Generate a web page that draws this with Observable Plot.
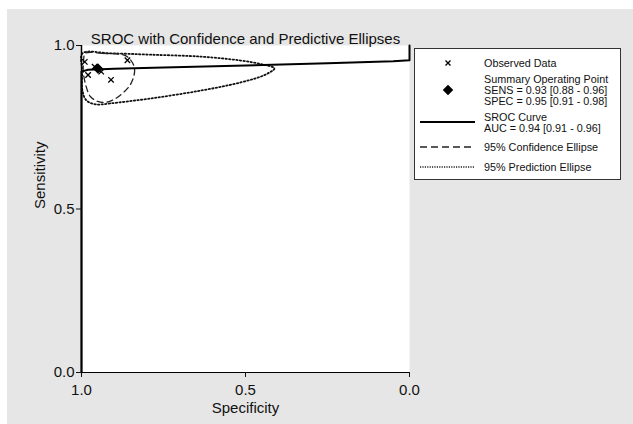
<!DOCTYPE html>
<html><head><meta charset="utf-8">
<script src="https://cdn.jsdelivr.net/npm/d3@7"></script>
<script src="https://cdn.jsdelivr.net/npm/@observablehq/plot@0.6"></script>
<style>
html,body{margin:0;padding:0;background:#fff;}
#wrap{position:relative;width:633px;height:424px;overflow:hidden;}
#bg{position:absolute;left:7px;top:9px;width:626px;height:415px;background:#e6e6e6;}
#chart{position:absolute;left:0;top:0;}
</style></head><body>
<div id="wrap"><div id="bg"></div><div id="chart"></div></div>
<script>
// ---- data ----
const titleText = "SROC with Confidence and Predictive Ellipses";
const xLabel = "Specificity";
const yLabel = "Sensitivity";
const tickValues = [0, 0.5, 1];

const obsSpec = [0.99, 0.98, 0.86, 0.91, 0.94, 0.96];
const obsSens = [0.95, 0.91, 0.955, 0.895, 0.92, 0.935];

const summarySpec = [0.95];
const summarySens = [0.93];

const srocSpec = [1.0, 1.0, 0.98, 0.9, 0.75, 0.5, 0.25, 0.05, 0.0, 0.0];
const srocSens = [0.0, 0.92, 0.926, 0.929, 0.933, 0.939, 0.946, 0.952, 0.955, 1.0];

const confSpec = [0.988, 0.936, 0.866, 0.845, 0.838, 0.845, 0.857, 0.896, 0.927, 0.951, 0.973, 0.985, 0.994, 0.994];
const confSens = [0.976, 0.976, 0.969, 0.948, 0.924, 0.893, 0.872, 0.838, 0.826, 0.829, 0.844, 0.872, 0.914, 0.948];

const predSpec = [0.997, 0.912, 0.790, 0.637, 0.515, 0.448, 0.412, 0.439, 0.515, 0.637, 0.790, 0.912, 0.957, 0.985, 0.997, 0.998];
const predSens = [0.976, 0.976, 0.972, 0.966, 0.954, 0.942, 0.930, 0.911, 0.887, 0.862, 0.838, 0.823, 0.820, 0.832, 0.862, 0.924];

const legendObserved = ["Observed Data"];
const legendSummary = ["Summary Operating Point", "SENS = 0.93 [0.88 - 0.96]", "SPEC = 0.95 [0.91 - 0.98]"];
const legendSroc = ["SROC Curve", "AUC = 0.94 [0.91 - 0.96]"];
const legendConf = ["95% Confidence Ellipse"];
const legendPred = ["95% Prediction Ellipse"];

// ---- tables ----
const toRows = (xs, ys) => xs.map((x, i) => ({spec: x, sens: ys[i]}));
const obs = toRows(obsSpec, obsSens);
const summary = toRows(summarySpec, summarySens);
const sroc = toRows(srocSpec, srocSens);
const conf = toRows(confSpec, confSens);
const pred = toRows(predSpec, predSens);

const FONT = "'Liberation Sans', Arial, Helvetica, sans-serif";
const fmt = d3.format(".1f");

const plot = Plot.plot({
  width: 633, height: 424,
  marginLeft: 81, marginRight: 224, marginTop: 45, marginBottom: 52,
  style: {background: "transparent", fontFamily: FONT, fontSize: "15px", color: "#111", overflow: "visible"},
  x: {domain: [1, 0]},
  y: {domain: [0, 1]},
  marks: [
    Plot.frame({fill: "white", stroke: "none"}),
    Plot.line(pred, {x: "spec", y: "sens", curve: "catmull-rom-closed", stroke: "#111", strokeWidth: 1.8, strokeDasharray: "1.4,2.2"}),
    Plot.line(conf, {x: "spec", y: "sens", curve: "catmull-rom-closed", stroke: "#222", strokeWidth: 1.3, strokeDasharray: "6,4"}),
    Plot.line(sroc, {x: "spec", y: "sens", stroke: "#000", strokeWidth: 2}),
    Plot.dot(obs, {x: "spec", y: "sens", symbol: "times", r: 2.6, stroke: "#000", strokeWidth: 1.3}),
    Plot.dot(summary, {x: "spec", y: "sens", symbol: "square", rotate: 45, r: 4.2, fill: "#000", stroke: "none"}),
    Plot.ruleX([1], {stroke: "#000", strokeWidth: 1.5}),
    Plot.ruleY([0], {stroke: "#000", strokeWidth: 1.2}),
    Plot.axisY({ticks: tickValues, tickFormat: fmt, tickSize: 5, tickPadding: 2, label: null, fontSize: 15}),
    Plot.axisX({ticks: tickValues, tickFormat: fmt, tickSize: 5, tickPadding: 7, label: null, fontSize: 15}),
    Plot.text([titleText], {frameAnchor: "top", dy: -12, fontSize: 15, fill: "#111"}),
    Plot.text([xLabel], {frameAnchor: "bottom", dy: 40, fontSize: 15, fill: "#111"}),
    Plot.text([yLabel], {frameAnchor: "left", dx: -41, rotate: -90, fontSize: 15, fill: "#111"})
  ]
});
document.getElementById("chart").appendChild(plot);

// ---- legend (added to the SVG) ----
const svg = d3.select(plot);
const lg = svg.append("g").attr("font-family", FONT).attr("font-size", 10.8).attr("fill", "#111").attr("text-anchor", "start");
lg.append("rect").attr("x", 414.5).attr("y", 48.5).attr("width", 206).attr("height", 131)
  .attr("fill", "white").attr("stroke", "#333").attr("stroke-width", 1);
const textX = 484;
function lines(arr, y0, step) {
  arr.forEach((t, i) => lg.append("text").attr("x", textX).attr("y", y0 + i * step).attr("dy", "0.35em").attr("text-anchor", "start").text(t));
}
lines(legendObserved, 63, 11);
lg.append("path").attr("transform", "translate(448,63)")
  .attr("d", d3.symbol(d3.symbolTimes, Math.PI * 2.4 * 2.4)()).attr("stroke", "#000").attr("stroke-width", 1.3).attr("fill", "none");
lines(legendSummary, 79.5, 11);
lg.append("path").attr("transform", "translate(448,90) rotate(45)")
  .attr("d", d3.symbol(d3.symbolSquare, Math.PI * 4.2 * 4.2)()).attr("fill", "#000");
lines(legendSroc, 117.5, 11);
lg.append("line").attr("x1", 420).attr("x2", 475).attr("y1", 122).attr("y2", 122).attr("stroke", "#000").attr("stroke-width", 2);
lines(legendConf, 147, 11);
lg.append("line").attr("x1", 420).attr("x2", 475).attr("y1", 147).attr("y2", 147).attr("stroke", "#222").attr("stroke-width", 1.3).attr("stroke-dasharray", "7,4");
lines(legendPred, 167, 11);
lg.append("line").attr("x1", 420).attr("x2", 475).attr("y1", 167).attr("y2", 167).attr("stroke", "#222").attr("stroke-width", 1.3).attr("stroke-dasharray", "1.2,1.2");
</script>
</body></html>
